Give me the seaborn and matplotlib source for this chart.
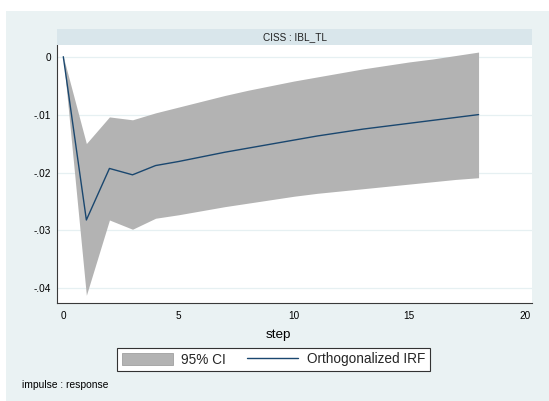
import numpy as np
import pandas as pd
import matplotlib
matplotlib.use("Agg")
import matplotlib.pyplot as plt
from matplotlib.patches import Rectangle, Patch
from matplotlib.lines import Line2D
import seaborn as sns

# ---- data ----
steps = list(range(19))
irf = [0.0, -0.0282, -0.0193, -0.0204, -0.0188, -0.0181, -0.0173, -0.0165,
       -0.0158, -0.0151, -0.0144, -0.0137, -0.0131, -0.0125, -0.0120,
       -0.0115, -0.0110, -0.0105, -0.0100]
ci_upper = [0.0, -0.0150, -0.0104, -0.0109, -0.0097, -0.0087, -0.0077,
            -0.0067, -0.0058, -0.0050, -0.0042, -0.0035, -0.0028, -0.0021,
            -0.0015, -0.0009, -0.0004, 0.0002, 0.0008]
ci_lower = [0.0, -0.0412, -0.0282, -0.0298, -0.0279, -0.0273, -0.0266,
            -0.0259, -0.0253, -0.0247, -0.0241, -0.0236, -0.0232, -0.0228,
            -0.0224, -0.0220, -0.0216, -0.0212, -0.0209]
x_ticks = [0, 5, 10, 15, 20]
y_ticks = [0.0, -0.01, -0.02, -0.03, -0.04]
y_tick_labels = ["0", "-.01", "-.02", "-.03", "-.04"]
panel_title = "CISS : IBL_TL"
x_label = "step"
legend_labels = ["95% CI", "Orthogonalized IRF"]
note = "impulse : response"

df = pd.DataFrame({"step": steps, "irf": irf, "lo": ci_lower, "hi": ci_upper})

sns.set_style("white")
plt.rcParams["font.family"] = ["Liberation Sans", "DejaVu Sans"]

W, H = 549, 401
fig = plt.figure(figsize=(W / 100, H / 100), dpi=100)
fig.patch.set_facecolor("white")

BG = "#EAF2F3"
STRIP = "#D9E6EB"
FILL = "#B3B3B3"
NAVY = "#1A476F"
AXC = "#3A3A3A"

def fx(px):
    return px / W

def fy(py):
    return 1 - py / H

# graph region background
fig.add_artist(Rectangle((fx(6), 0), fx(549 - 6), fy(10.5), transform=fig.transFigure,
                         facecolor=BG, edgecolor="none", zorder=0))

# plot axes
L, R, T, B = 57, 532.3, 44.5, 303
ax = fig.add_axes([fx(L), fy(B), fx(R - L), (B - T) / H])
ax.set_facecolor("white")
ax.fill_between(df["step"], df["lo"], df["hi"], color=FILL, linewidth=0, zorder=2)
sns.lineplot(data=df, x="step", y="irf", ax=ax, color=NAVY, linewidth=1.0, zorder=3)

# scales: 0 at x=63.3px, 23.07 px/unit ; y 0 at 56.7px, 5790 px/unit
x0px, xs = 63.3, 23.07
y0px, ys = 56.7, 5790.0
ax.set_xlim((L - x0px) / xs, (R - x0px) / xs)
ax.set_ylim(-(B - y0px) / ys, (y0px - T) / ys)

ax.set_xticks(x_ticks)
ax.set_xticklabels([str(v) for v in x_ticks])
ax.set_yticks(y_ticks)
ax.set_yticklabels(y_tick_labels)
ax.tick_params(axis="both", direction="out", length=3.5, width=0.7, colors=AXC,
               labelsize=7.2, labelcolor="black")
ax.tick_params(axis="y", pad=1.0)
ax.tick_params(axis="x", pad=2.6)
ax.grid(True, axis="y", color="#E6F0F2", linewidth=0.9, zorder=1)
ax.grid(False, axis="x")
ax.set_axisbelow(True)
for s in ["top", "right"]:
    ax.spines[s].set_visible(False)
for s in ["left", "bottom"]:
    ax.spines[s].set_color(AXC)
    ax.spines[s].set_linewidth(0.8)
ax.set_xlabel("")
ax.set_ylabel("")

# title strip
fig.add_artist(Rectangle((fx(L), fy(T)), fx(R - L), (T - 29) / H, transform=fig.transFigure,
                         facecolor=STRIP, edgecolor="none", zorder=1))
fig.text(fx((L + R) / 2), fy((T + 29) / 2), panel_title, ha="center", va="center",
         fontsize=7.2, color="#222222")

# x label
fig.text(fx(278), fy(338), x_label, ha="center", va="baseline", fontsize=9.7, color="black")

# legend
handles = [Patch(facecolor=FILL, edgecolor="#A0A0A0", linewidth=0.6),
           Line2D([0], [0], color=NAVY, linewidth=1.0)]
leg = fig.legend(handles, legend_labels, ncol=2, loc="center",
                 bbox_to_anchor=(fx(273.4), fy(359.5)), frameon=True, fancybox=False,
                 fontsize=9.8, handlelength=3.75, handleheight=1.05, handletextpad=0.64,
                 columnspacing=1.55, borderpad=0.35, borderaxespad=0)
leg.get_frame().set_edgecolor("#333333")
leg.get_frame().set_linewidth(0.8)
leg.get_frame().set_facecolor("white")
leg.get_frame().set_alpha(1.0)

# note
fig.text(fx(22.5), fy(387.5), note, ha="left", va="baseline", fontsize=7.4, color="black")

fig.savefig("out.png", dpi=100, facecolor="white")
